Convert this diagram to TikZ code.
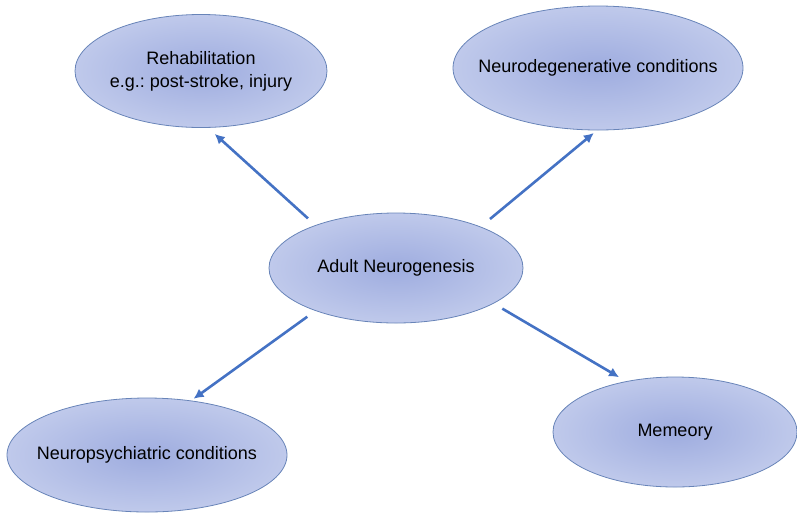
\documentclass[tikz,border=0pt]{standalone}
\usepackage{fontspec}
\setmainfont{Liberation Sans}
\usetikzlibrary{shapes.geometric, arrows.meta}

\definecolor{glowin}{RGB}{158,172,223}
\definecolor{glowout}{RGB}{222,228,246}
\definecolor{rimblue}{RGB}{104,132,184}
\definecolor{arrowblue}{RGB}{68,114,196}

\pgfdeclareradialshading{nodeglow}{\pgfpoint{0bp}{0bp}}{color(0bp)=(glowin); color(48bp)=(glowout); color(100bp)=(glowout)}

\begin{document}
\begin{tikzpicture}[
    x=1pt, y=-1pt,
    topic/.style={ellipse, draw=rimblue, line width=0.8pt, shading=nodeglow, inner sep=0pt},
    caption/.style={align=center, inner sep=0pt, font=\fontsize{18}{23}\selectfont\frenchspacing},
    arrow/.style={-{Latex[length=10pt,width=10pt]}, line width=2.6pt, draw=arrowblue}
  ]
    \useasboundingbox (0,0) rectangle (797,515);

    % Centre node
    \node[topic, minimum width=254pt, minimum height=110pt] (adult) at (396,268) {};
    \node[caption] (adulttext) at (adult) {Adult Neurogenesis};

    % Surrounding fields
    \node[topic, minimum width=252pt, minimum height=113pt] (rehab) at (201,71) {};
    \node[caption] (rehabtext) at (rehab) {Rehabilitation\\e.g.: post-stroke, injury};
    \node[topic, minimum width=290pt, minimum height=124pt] (neurodeg) at (598,68) {};
    \node[caption] (neurodegtext) at (neurodeg) {Neurodegenerative conditions};
    \node[topic, minimum width=280pt, minimum height=114pt] (neuropsych) at (147,455) {};
    \node[caption] (neuropsychtext) at (neuropsych) {Neuropsychiatric conditions};
    \node[topic, minimum width=244pt, minimum height=110pt] (memory) at (675,432) {};
    \node[caption] (memorytext) at (memory) {Memeory};

    % Arrows out of the centre
    \draw[arrow, shorten <=10pt, shorten >=9pt] (adult.152) -- (rehab.-83);
    \draw[arrow, shorten <=12pt, shorten >=4pt] (adult.26) -- (neurodeg.-91);
    \draw[arrow, shorten <=10pt, shorten >=3pt] (adult.208) -- (neuropsych.51);
    \draw[arrow, shorten <=10pt, shorten >=8pt] (adult.-20) -- (memory.134);
  \end{tikzpicture}
\end{document}
